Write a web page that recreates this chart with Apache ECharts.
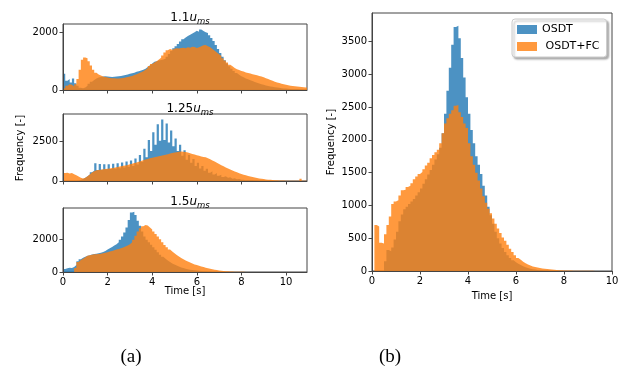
<!DOCTYPE html>
<html><head><meta charset="utf-8">
<script src="https://cdn.jsdelivr.net/npm/echarts@6/dist/echarts.min.js"></script>
<style>html,body{margin:0;padding:0;background:#fff}#c{width:628px;height:371px}</style>
</head><body><div id="c"></div>
<script>
// ---------- data ----------
const binWidth = 0.1;
const seriesNames = ['OSDT', 'OSDT+FC'];
const panelLabels = ['1.1', '1.25', '1.5'];
const leftXTicks = [0, 2, 4, 6, 8, 10];
const rightXTicks = [0, 2, 4, 6, 8, 10];
const yTicksP1 = [0, 2000];
const yTicksP2 = [0, 2500];
const yTicksP3 = [0, 2000];
const yTicksRight = [0, 500, 1000, 1500, 2000, 2500, 3000, 3500];

// panel (a) 1.1 u_ms
const osdt11 = [560,320,380,260,400,230,150,80,60,90,
150,220,290,350,400,430,450,470,480,470,
460,450,460,470,480,490,500,520,540,560,
580,600,630,650,680,700,740,800,860,920,
980,1000,1020,1040,1060,1080,1150,1250,1350,1450,
1520,1600,1680,1760,1820,1870,1920,1960,2000,2060,
2020,2100,2050,2000,1980,1900,1800,1700,1560,1420,
1280,1150,1030,920,820,740,660,590,530,480,
440,400,370,340,310,280,250,225,200,180,
160,140,125,110,95,85,75,65,55,48,
42,36,30,26,22,18,15,12,10,8];
const fc11 = [60,150,200,180,120,200,380,700,1050,1130,
1100,1000,850,700,600,540,500,470,450,430,
420,410,410,400,400,410,420,430,450,470,
490,520,550,580,620,650,700,760,830,900,
950,1000,1060,1120,1200,1300,1380,1420,1400,1430,
1450,1440,1460,1470,1450,1480,1470,1500,1490,1460,
1480,1520,1550,1560,1520,1480,1420,1360,1300,1240,
1180,1100,1020,950,880,820,760,720,690,660,
640,610,590,570,550,530,510,490,470,440,
410,380,350,320,290,260,240,220,200,180,
165,150,140,130,120,110,100,95,90,85];

// panel (a) 1.25 u_ms
const osdt125 = [0,0,0,0,0,0,20,60,120,200,
300,420,560,650,1120,700,1080,720,1060,740,
1070,760,1090,780,1120,810,1170,850,1230,900,
1300,950,1420,1050,1650,1200,2050,1500,2600,1900,
3100,2300,3600,2550,3900,2600,3650,2450,3200,2200,
2700,1900,2300,1600,1950,1350,1650,1150,1400,950,
1150,800,950,650,780,520,620,420,500,330,
390,260,300,200,230,150,170,110,120,80,
85,55,60,40,40,28,28,20,18,12,
12,8,8,5,5,4,3,3,2,2,
1,1,1,1,0,0,0,0,0,0];
const fc125 = [500,520,480,510,430,360,280,200,160,200,
300,420,540,620,680,700,720,740,760,780,
800,820,840,870,900,930,960,990,1020,1060,
1100,1140,1180,1220,1270,1320,1360,1400,1440,1470,
1500,1540,1570,1600,1630,1670,1700,1740,1770,1800,
1830,1850,1870,1860,1840,1800,1760,1720,1680,1640,
1600,1560,1530,1500,1450,1380,1300,1230,1150,1080,
1000,930,860,790,730,670,610,550,490,440,
400,360,320,280,250,220,190,160,140,120,
100,85,72,60,50,42,35,30,25,22,
20,18,16,14,12,12,150,10,8,6];

// panel (a) 1.5 u_ms
const osdt15 = [180,220,260,250,300,420,650,780,860,920,
980,1020,1060,1090,1110,1130,1170,1220,1280,1360,
1440,1520,1600,1680,1800,1950,2150,2400,2700,3150,
3600,3650,3450,3100,2800,2450,2150,1950,1800,1650,
1500,1350,1200,1050,920,800,700,600,520,450,
390,330,280,240,200,170,140,120,100,85,
70,58,48,40,32,26,20,16,12,10,
8,6,5,4,3,2,2,1,1,1,
0,0,0,0,0,0,0,0,0,0,
0,0,0,0,0,0,0,0,0,0,
0,0,0,0,0,0,0,0,0,0];
const fc15 = [0,0,0,0,0,250,600,720,800,900,
980,1020,1050,1070,1080,1090,1110,1130,1160,1200,
1240,1280,1320,1360,1400,1440,1490,1540,1600,1680,
1800,1950,2200,2450,2650,2780,2850,2820,2700,2580,
2450,2300,2150,1980,1800,1640,1500,1360,1240,1130,
1030,940,850,770,700,640,580,520,460,420,
380,340,300,260,230,200,170,140,115,95,
80,65,52,42,34,28,22,17,13,10,
8,6,5,4,3,2,2,1,1,1,
0,0,0,0,0,0,0,0,0,0,
0,0,0,0,0,0,0,0,0,0];

// panel (b)
const osdtB = [0,0,0,0,0,150,320,300,360,480,
600,760,860,940,980,1020,1060,1100,1150,1200,
1260,1330,1400,1470,1540,1620,1700,1780,1880,2100,
2400,2750,3100,3450,3720,3740,3550,3250,2950,2650,
2400,2150,1950,1750,1620,1480,1300,1150,980,850,
720,600,500,420,350,290,240,200,165,135,
110,90,72,58,46,36,28,22,17,13,
10,8,6,5,4,3,2,2,1,1,
0,0,0,0,0,0,0,0,0,0,
0,0,0,0,0,0,0,0,0,0];
const fcB = [0,700,680,430,420,560,700,830,1020,1060,
1080,1150,1230,1240,1280,1300,1340,1400,1440,1480,
1510,1550,1610,1650,1720,1770,1810,1850,1950,2100,
2250,2330,2400,2450,2520,2530,2420,2350,2250,2180,
1950,1750,1620,1500,1380,1260,1140,1040,950,880,
800,720,650,580,510,460,400,340,290,240,
200,170,140,120,100,85,70,60,52,46,
40,35,30,26,22,18,15,12,10,9,
8,7,6,5,5,4,4,3,3,2,
2,2,1,1,1,1,1,1,0,0];

// ---------- styling / layout ----------
const BLUE = 'rgba(31,119,180,0.8)';
const ORANGE = 'rgba(255,127,14,0.8)';
const SPINE = '#444';
const FONT = '"DejaVu Sans", sans-serif';

const chart = echarts.init(document.getElementById('c'), null, {renderer: 'canvas'});

// histogram drawn as a stepped area: each bin [start, start+binWidth) at its count
function hist(name, values, color, idx) {
  const pts = values.map((v, i) => [i * binWidth, v]);
  pts.push([values.length * binWidth, values[values.length - 1]]); // closing edge of last bin
  return {
    name: name, type: 'line', xAxisIndex: idx, yAxisIndex: idx,
    step: 'end', showSymbol: false, symbol: 'none', silent: true,
    color: color,
    itemStyle: {color: color},
    lineStyle: {width: 0, opacity: 0},
    areaStyle: {color: color, opacity: 1, origin: 'start'},
    data: pts, clip: true
  };
}

const plainNum = v => String(v);

function xAx(idx, max, ticks, labels) {
  return {
    type: 'value', gridIndex: idx, min: 0, max: max, z: 10,
    axisLine: {show: true, onZero: false, lineStyle: {color: SPINE, width: 1}},
    axisTick: {show: true, length: 3.5, lineStyle: {color: SPINE}, customValues: ticks},
    axisLabel: {show: labels, customValues: ticks, formatter: plainNum, fontSize: 10, color: '#000', margin: 5, fontFamily: FONT},
    splitLine: {show: false}
  };
}
function yAx(idx, max, ticks) {
  return {
    type: 'value', gridIndex: idx, min: 0, max: max, z: 10,
    axisLine: {show: true, onZero: false, lineStyle: {color: SPINE, width: 1}},
    axisTick: {show: true, length: 3.5, lineStyle: {color: SPINE}, customValues: ticks},
    axisLabel: {show: true, customValues: ticks, formatter: plainNum, fontSize: 10, color: '#000', margin: 5, fontFamily: FONT},
    splitLine: {show: false}
  };
}

const gridBase = {show: true, borderColor: SPINE, borderWidth: 1, backgroundColor: 'transparent', containLabel: false};

function ttl(label, top) {
  return {
    text: '{n|' + label + '}{u|u}{s|ms}', left: 185, top: top, textAlign: 'center',
    textStyle: {
      fontWeight: 'normal',
      rich: {
        n: {fontSize: 12, fontFamily: FONT, fontWeight: 'normal', color: '#000', lineHeight: 16},
        u: {fontSize: 12, fontFamily: FONT, fontWeight: 'normal', fontStyle: 'italic', color: '#000', lineHeight: 16},
        s: {fontSize: 8.5, fontFamily: FONT, fontWeight: 'normal', fontStyle: 'italic', color: '#000', lineHeight: 16, padding: [7, 0, 0, 0]}
      }
    }
  };
}

const option = {
  animation: false,
  backgroundColor: '#fff',
  title: [ttl(panelLabels[0], 5), ttl(panelLabels[1], 96), ttl(panelLabels[2], 189)],
  legend: {
    data: seriesNames, left: 512, top: 19, orient: 'vertical',
    selectedMode: false, icon: 'rect', itemWidth: 20, itemHeight: 9, itemGap: 6,
    padding: [5, 7, 5, 5],
    formatter: n => n === 'OSDT+FC' ? ' ' + n : n,
    textStyle: {fontSize: 11, fontFamily: FONT, color: '#000'},
    backgroundColor: '#fff', borderColor: '#ccc', borderWidth: 1, borderRadius: 3,
    shadowBlur: 2, shadowOffsetX: 2, shadowOffsetY: 2, shadowColor: 'rgba(0,0,0,0.3)'
  },
  grid: [
    Object.assign({left: 63, top: 24, width: 244, height: 66}, gridBase),
    Object.assign({left: 63, top: 114, width: 244, height: 67}, gridBase),
    Object.assign({left: 63, top: 208, width: 244, height: 64}, gridBase),
    Object.assign({left: 372, top: 13, width: 240, height: 258}, gridBase)
  ],
  xAxis: [
    xAx(0, 10.94, leftXTicks, false),
    xAx(1, 10.94, leftXTicks, false),
    xAx(2, 10.94, leftXTicks, true),
    xAx(3, 10, rightXTicks, true)
  ],
  yAxis: [
    yAx(0, 2290, yTicksP1),
    yAx(1, 4250, yTicksP2),
    yAx(2, 3880, yTicksP3),
    yAx(3, 3935, yTicksRight)
  ],
  series: [
    hist(seriesNames[0], osdt11, BLUE, 0), hist(seriesNames[1], fc11, ORANGE, 0),
    hist(seriesNames[0], osdt125, BLUE, 1), hist(seriesNames[1], fc125, ORANGE, 1),
    hist(seriesNames[0], osdt15, BLUE, 2), hist(seriesNames[1], fc15, ORANGE, 2),
    hist(seriesNames[0], osdtB, BLUE, 3), hist(seriesNames[1], fcB, ORANGE, 3)
  ],
  graphic: [
    {type: 'text', x: 20, y: 148, rotation: Math.PI / 2, style: {text: 'Frequency [-]', font: '10px ' + FONT, fill: '#000', align: 'center', verticalAlign: 'middle'}},
    {type: 'text', x: 331, y: 142, rotation: Math.PI / 2, style: {text: 'Frequency [-]', font: '10px ' + FONT, fill: '#000', align: 'center', verticalAlign: 'middle'}},
    {type: 'text', x: 185, y: 291, style: {text: 'Time [s]', font: '10px ' + FONT, fill: '#000', align: 'center', verticalAlign: 'middle'}},
    {type: 'text', x: 492, y: 296, style: {text: 'Time [s]', font: '10px ' + FONT, fill: '#000', align: 'center', verticalAlign: 'middle'}},
    {type: 'text', x: 131, y: 357, style: {text: '(a)', font: '19px "Liberation Serif", serif', fill: '#000', align: 'center', verticalAlign: 'middle'}},
    {type: 'text', x: 390, y: 357, style: {text: '(b)', font: '19px "Liberation Serif", serif', fill: '#000', align: 'center', verticalAlign: 'middle'}}
  ]
};
chart.setOption(option);
</script>
</body></html>
